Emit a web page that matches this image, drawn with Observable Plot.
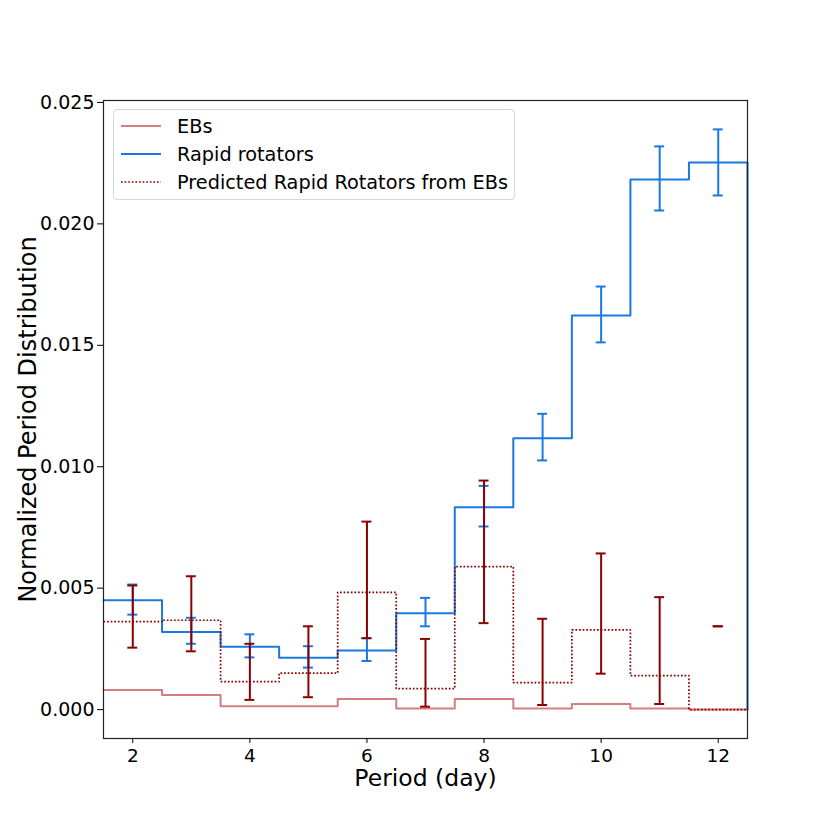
<!DOCTYPE html>
<html>
<head>
<meta charset="utf-8">
<script src="https://cdn.jsdelivr.net/npm/d3@7"></script>
<script src="https://cdn.jsdelivr.net/npm/@observablehq/plot@0.6"></script>
<style>
  body { margin: 0; background: #fff; font-family: "DejaVu Sans", sans-serif; }
  #wrap { position: relative; width: 830px; height: 830px; }
  #legend { position: absolute; left: 113px; top: 109px; width: 402px; height: 91px;
    border: 1px solid #d6d6d6; border-radius: 4px; background: rgba(255,255,255,0.85);
    font-family: "DejaVu Sans", sans-serif; font-size: 19.3px; color: #000; box-sizing: border-box; }
  .row { position: absolute; left: 6px; height: 22px; display: flex; align-items: center; }
  .row svg { width: 42px; height: 22px; margin-right: 15px; flex: none; }
  .row span { white-space: nowrap; }
</style>
</head>
<body>
<div id="wrap">
  <div id="chart"></div>
  <div id="legend"></div>
</div>
<script>
const centers = [2, 3, 4, 5, 6, 7, 8, 9, 10, 11, 12];
const ebVals = [0.00081, 0.00060, 0.00014, 0.00014, 0.00044, 0.00005, 0.00044, 0.00005, 0.00023, 0.00005, 0.0];
const rapidVals = [0.00450, 0.00320, 0.00259, 0.00214, 0.00243, 0.00397, 0.00833, 0.01117, 0.01623, 0.02183, 0.02253];
const rapidLo = [0.00391, 0.00271, 0.00215, 0.00173, 0.00200, 0.00343, 0.00754, 0.01026, 0.01512, 0.02055, 0.02117];
const rapidHi = [0.00515, 0.00378, 0.00310, 0.00261, 0.00294, 0.00460, 0.00921, 0.01218, 0.01742, 0.02319, 0.02389];
const predVals = [0.00362, 0.00368, 0.00115, 0.00150, 0.00483, 0.00086, 0.00589, 0.00111, 0.00328, 0.00140, 0.0];
const predLo = [0.00255, 0.00240, 0.00040, 0.00051, 0.00294, 0.00012, 0.00356, 0.00019, 0.00148, 0.00023, 0.00343];
const predHi = [0.00511, 0.00549, 0.00271, 0.00343, 0.00774, 0.00291, 0.00943, 0.00374, 0.00643, 0.00463, 0.00343];
const xTicks = [2, 4, 6, 8, 10, 12];
const yTicks = [0, 0.005, 0.010, 0.015, 0.020, 0.025];
const seriesNames = ["EBs", "Rapid rotators", "Predicted Rapid Rotators from EBs"];
const colors = { eb: "#d37f7f", rapid: "#1a78e0", pred: "#8b0000" };
const dotted = "1.7,1.9";

function stepPts(vals) {
  const n = vals.length;
  const pts = [];
  centers.forEach((c, i) => pts.push({x: c - 0.5, y: vals[i]}));
  pts.push({x: centers[n - 1] + 0.5, y: vals[n - 1]});
  pts.push({x: centers[n - 1] + 0.5, y: 0});
  return pts;
}
function errs(lo, hi) {
  return centers.map((c, i) => ({x: c, lo: lo[i], hi: hi[i]}));
}
const capW = 0.085;

const rapidErr = errs(rapidLo, rapidHi);
const predErr = errs(predLo, predHi);

const chart = Plot.plot({
  width: 830,
  height: 830,
  marginLeft: 103,
  marginRight: 83,
  marginTop: 100,
  marginBottom: 92,
  style: { fontFamily: "DejaVu Sans, sans-serif", background: "#fff" },
  x: { domain: [1.5, 12.5] },
  y: { domain: [-0.00119, 0.02508] },
  marks: [
    Plot.line(stepPts(ebVals), {x: "x", y: "y", curve: "step-after", stroke: colors.eb, strokeWidth: 2}),
    Plot.line(stepPts(rapidVals), {x: "x", y: "y", curve: "step-after", stroke: colors.rapid, strokeWidth: 2}),
    Plot.line(stepPts(predVals), {x: "x", y: "y", curve: "step-after", stroke: colors.pred, strokeWidth: 1.7, strokeDasharray: dotted, strokeLinecap: "butt", strokeLinejoin: "miter"}),
    Plot.ruleX(rapidErr, {x: "x", y1: "lo", y2: "hi", stroke: colors.rapid, strokeWidth: 2}),
    Plot.ruleY(rapidErr, {y: "lo", x1: d => d.x - capW, x2: d => d.x + capW, stroke: colors.rapid, strokeWidth: 2}),
    Plot.ruleY(rapidErr, {y: "hi", x1: d => d.x - capW, x2: d => d.x + capW, stroke: colors.rapid, strokeWidth: 2}),
    Plot.ruleX(predErr, {x: "x", y1: "lo", y2: "hi", stroke: colors.pred, strokeWidth: 2}),
    Plot.ruleY(predErr, {y: "lo", x1: d => d.x - capW, x2: d => d.x + capW, stroke: colors.pred, strokeWidth: 2}),
    Plot.ruleY(predErr, {y: "hi", x1: d => d.x - capW, x2: d => d.x + capW, stroke: colors.pred, strokeWidth: 2}),
    Plot.frame({stroke: "#222", strokeWidth: 1.2}),
    Plot.axisX({ticks: xTicks, tickSize: 5, tickPadding: 5, fontSize: 18.5, label: null, tickFormat: d3.format("d"), color: "#000"}),
    Plot.axisY({ticks: yTicks, tickSize: 6, tickPadding: 3, fontSize: 19, label: null, tickFormat: d3.format(".3f"), color: "#000"}),
    Plot.text(["Period (day)"], {text: d => d, frameAnchor: "bottom", textAnchor: "middle", lineAnchor: "middle", dy: 40, fontSize: 23.5, fill: "#000"}),
    Plot.text(["Normalized Period Distribution"], {text: d => d, frameAnchor: "left", textAnchor: "middle", dx: -75, rotate: -90, fontSize: 24, fill: "#000"})
  ]
});
document.getElementById("chart").appendChild(chart);

const legend = document.getElementById("legend");
const legendStyles = [
  {stroke: colors.eb, dash: null},
  {stroke: colors.rapid, dash: null},
  {stroke: colors.pred, dash: dotted}
];
seriesNames.forEach((name, i) => {
  const row = document.createElement("div");
  row.className = "row";
  row.style.top = (5 + i * 28) + "px";
  const s = legendStyles[i];
  row.innerHTML = `<svg><line x1="1" x2="41" y1="11" y2="11" stroke="${s.stroke}" stroke-width="${s.dash ? 1.7 : 2}" ${s.dash ? `stroke-dasharray="${s.dash}"` : ""}/></svg><span>${name}</span>`;
  legend.appendChild(row);
});
</script>
</body>
</html>
